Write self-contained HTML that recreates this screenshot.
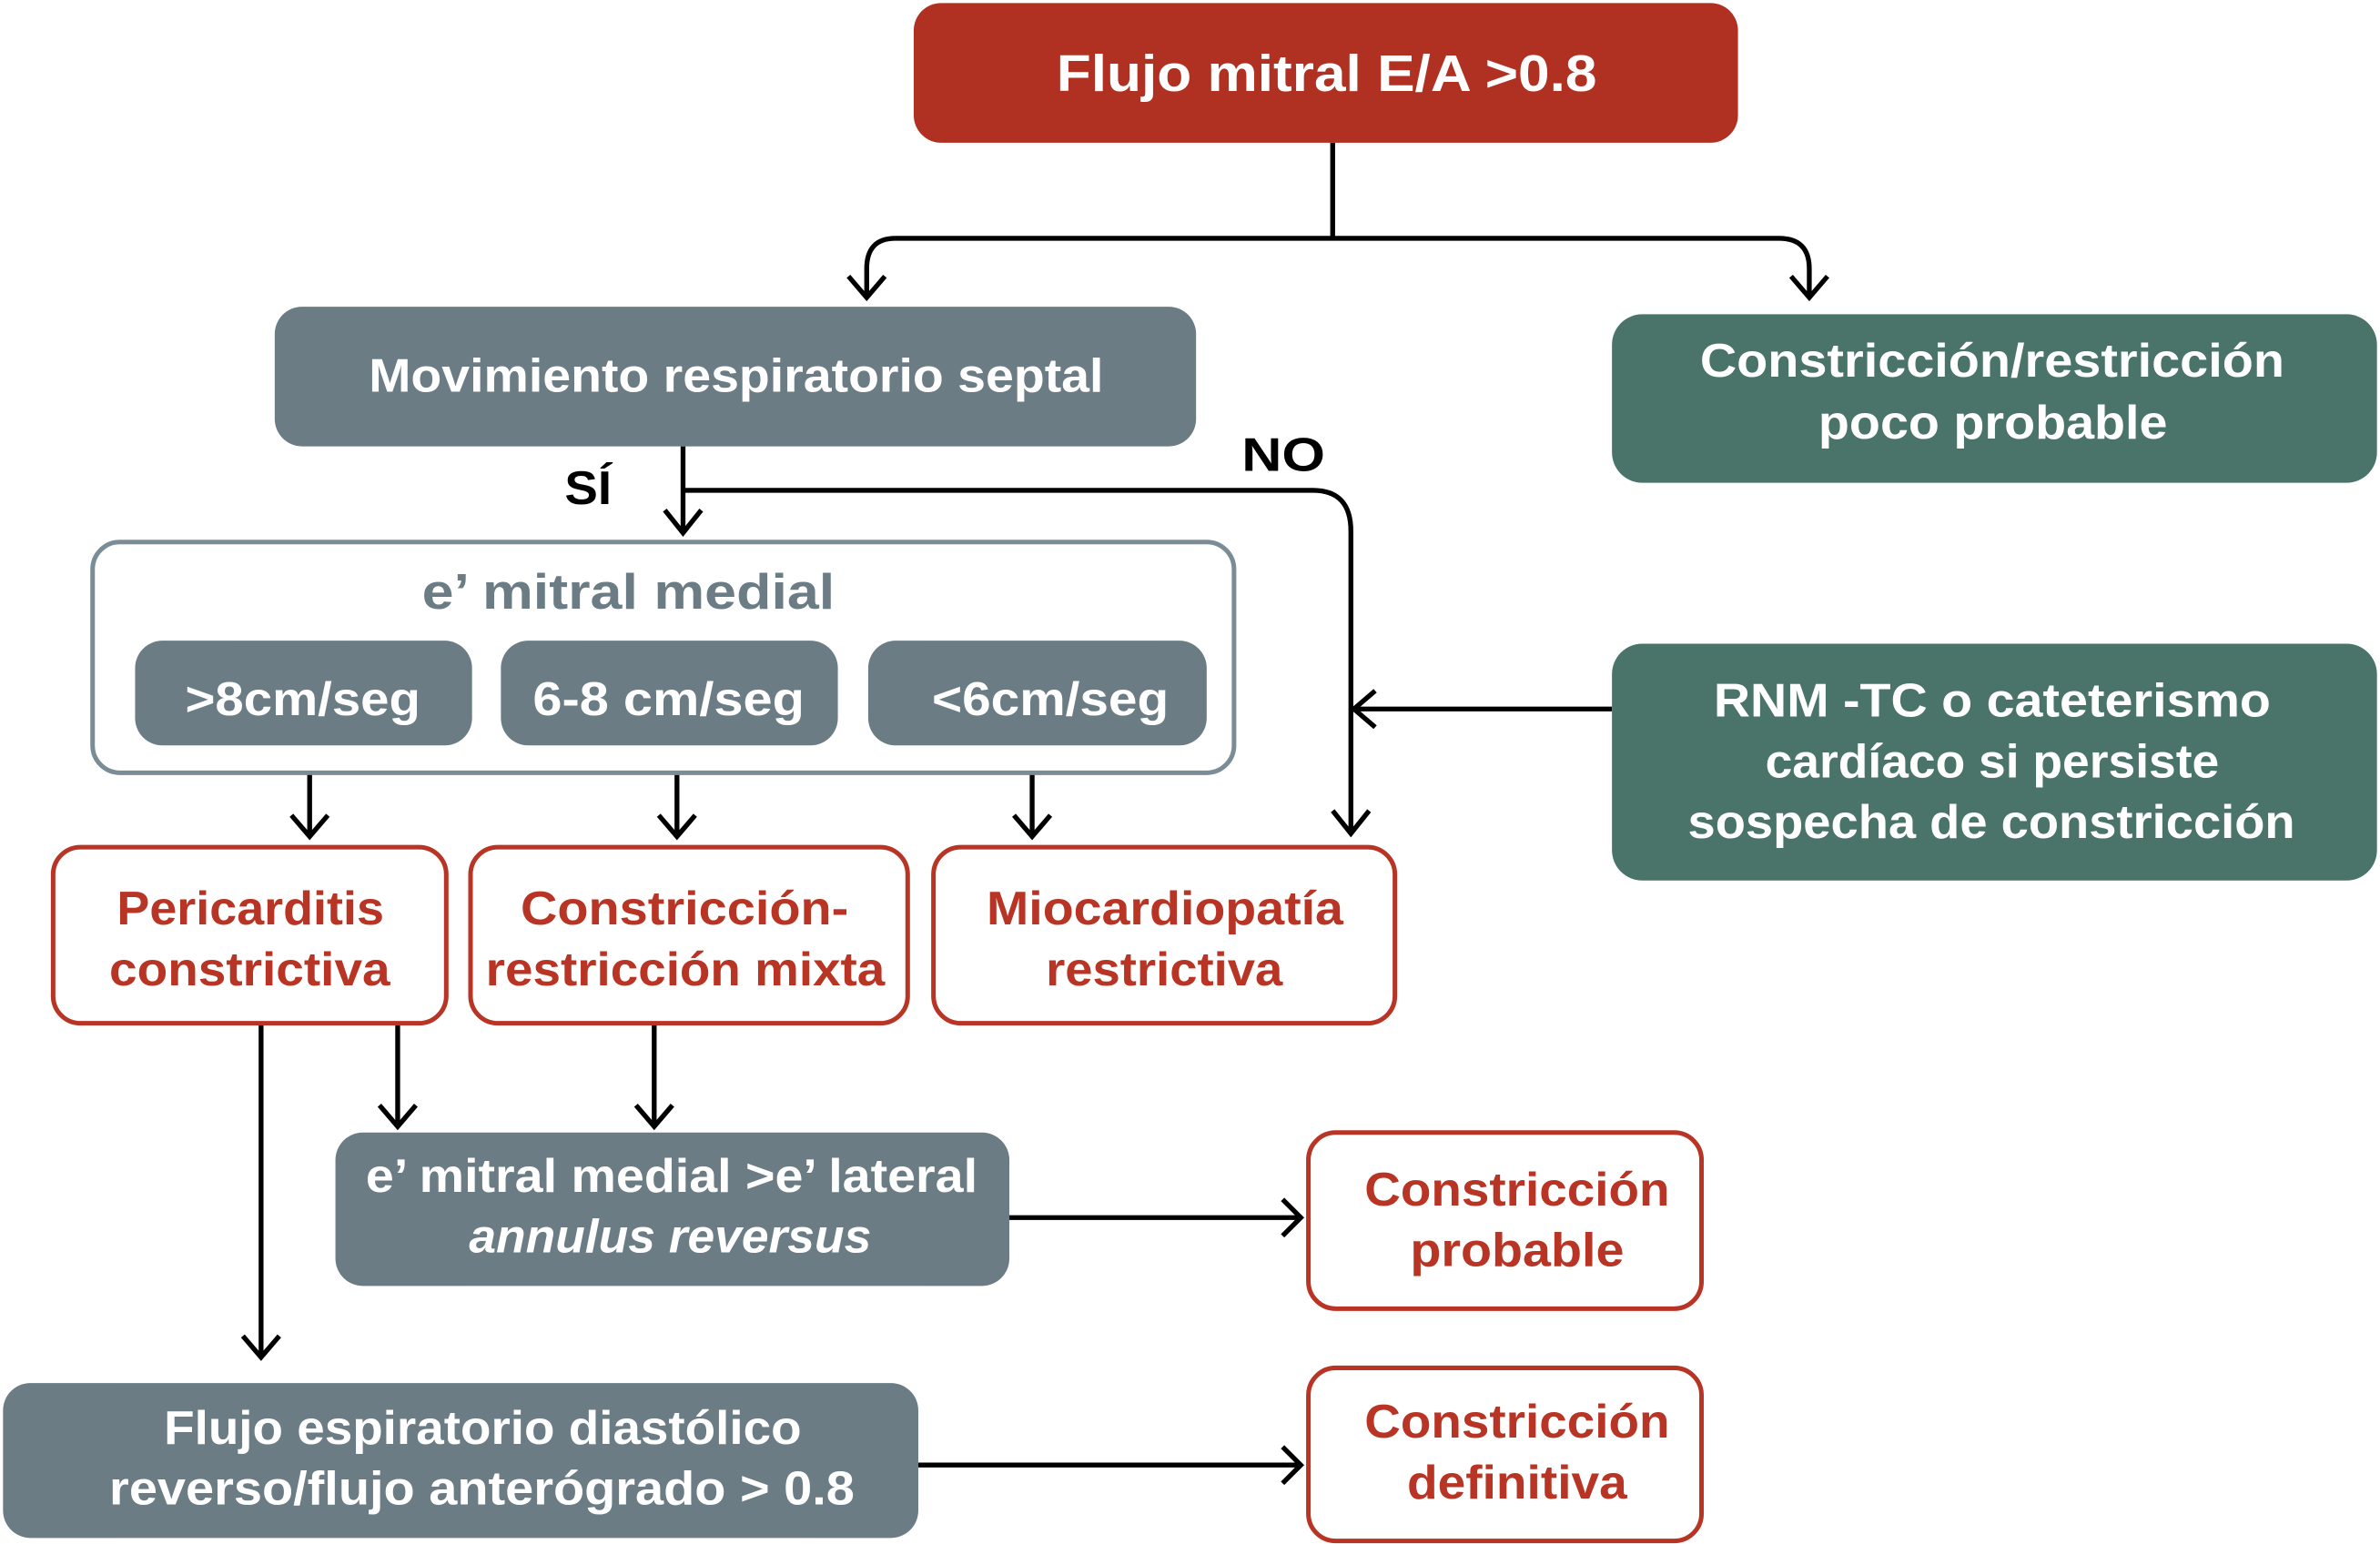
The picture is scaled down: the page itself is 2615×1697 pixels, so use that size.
<!DOCTYPE html>
<html><head><meta charset="utf-8"><style>html,body{margin:0;padding:0;background:#fff}svg{display:block}</style></head>
<body>
<svg width="2615" height="1697" viewBox="0 0 1568 1017" preserveAspectRatio="none" xmlns="http://www.w3.org/2000/svg" font-family="Liberation Sans, DejaVu Sans, sans-serif" font-weight="bold">
<g fill="none" stroke="#000" stroke-width="3.2">
<path d="M878 94 V157"/>
<path d="M590 157 H1172 Q1192 157 1192 177 V196"/>
<path d="M590 157 Q571 157 571 177 V196"/>
<path d="M559 182 L571 196 L583 182"/>
<path d="M1180 182 L1192 196 L1204 182"/>
<path d="M450 294 V351"/>
<path d="M438 336 L450 351 L462 336"/>
<path d="M450 323 H865 Q890 323 890 350 V549"/>
<path d="M878 534 L890 549 L902 534"/>
<path d="M1062 467 H892"/>
<path d="M906 455 L892 467 L906 479"/>
<path d="M204 510 V551"/><path d="M192 537 L204 551 L216 537"/>
<path d="M446 510 V551"/><path d="M434 537 L446 551 L458 537"/>
<path d="M680 510 V551"/><path d="M668 537 L680 551 L692 537"/>
<path d="M172 674 V894"/><path d="M160 880 L172 894 L184 880"/>
<path d="M262 674 V742"/><path d="M250 728 L262 742 L274 728"/>
<path d="M431 674 V742"/><path d="M419 728 L431 742 L443 728"/>
<path d="M665 802 H857"/><path d="M845 790 L857 802 L845 814"/>
<path d="M605 965 H857"/><path d="M845 953 L857 965 L845 977"/>
</g>
<rect x="602" y="2" width="543" height="92" rx="18" fill="#B03022"/>
<rect x="181" y="202" width="607" height="92" rx="18" fill="#6B7C85"/>
<rect x="1062" y="207" width="504" height="111" rx="20" fill="#4A746A"/>
<rect x="61" y="357" width="752" height="152" rx="18" fill="#fff" stroke="#7A8C95" stroke-width="3"/>
<rect x="89" y="422" width="222" height="69" rx="18" fill="#6B7C85"/>
<rect x="330" y="422" width="222" height="69" rx="18" fill="#6B7C85"/>
<rect x="572" y="422" width="223" height="69" rx="18" fill="#6B7C85"/>
<rect x="1062" y="424" width="504" height="156" rx="20" fill="#4A746A"/>
<g fill="#fff" stroke="#B83424" stroke-width="3">
<rect x="35" y="558" width="259" height="116" rx="18"/>
<rect x="310" y="558" width="288" height="116" rx="18"/>
<rect x="615" y="558" width="304" height="116" rx="18"/>
<rect x="862" y="746" width="259" height="116" rx="18"/>
<rect x="862" y="901" width="259" height="114" rx="18"/>
</g>
<rect x="221" y="746" width="444" height="101" rx="18" fill="#6B7C85"/>
<rect x="2" y="911" width="603" height="102" rx="18" fill="#6B7C85"/>
<g font-size="31" lengthAdjust="spacingAndGlyphs">
<text x="696" y="60" font-size="34" fill="#fff" textLength="356" lengthAdjust="spacingAndGlyphs">Flujo mitral E/A &gt;0.8</text>
<text x="243" y="258" fill="#fff" textLength="484" lengthAdjust="spacingAndGlyphs">Movimiento respiratorio septal</text>
<text x="1120" y="248" fill="#fff" textLength="385" lengthAdjust="spacingAndGlyphs">Constricción/restricción</text>
<text x="1198" y="289" fill="#fff" textLength="230" lengthAdjust="spacingAndGlyphs">poco probable</text>
<text x="278" y="401" font-size="33" fill="#6B7C85" textLength="272" lengthAdjust="spacingAndGlyphs">e’ mitral medial</text>
<text x="122" y="471" fill="#fff" textLength="155" lengthAdjust="spacingAndGlyphs">&gt;8cm/seg</text>
<text x="351" y="471" fill="#fff" textLength="179" lengthAdjust="spacingAndGlyphs">6-8 cm/seg</text>
<text x="614" y="471" fill="#fff" textLength="156" lengthAdjust="spacingAndGlyphs">&lt;6cm/seg</text>
<text x="1129" y="472" fill="#fff" textLength="367" lengthAdjust="spacingAndGlyphs">RNM -TC o cateterismo</text>
<text x="1163" y="512" fill="#fff" textLength="299" lengthAdjust="spacingAndGlyphs">cardíaco si persiste</text>
<text x="1112" y="552" fill="#fff" textLength="400" lengthAdjust="spacingAndGlyphs">sospecha de constricción</text>
<text x="77" y="609" fill="#B83424" textLength="176" lengthAdjust="spacingAndGlyphs">Pericarditis</text>
<text x="72" y="649" fill="#B83424" textLength="185" lengthAdjust="spacingAndGlyphs">constrictiva</text>
<text x="343" y="609" fill="#B83424" textLength="216" lengthAdjust="spacingAndGlyphs">Constricción-</text>
<text x="320" y="649" fill="#B83424" textLength="263" lengthAdjust="spacingAndGlyphs">restricción mixta</text>
<text x="650" y="609" fill="#B83424" textLength="235" lengthAdjust="spacingAndGlyphs">Miocardiopatía</text>
<text x="689" y="649" fill="#B83424" textLength="156" lengthAdjust="spacingAndGlyphs">restrictiva</text>
<text x="241" y="785" fill="#fff" textLength="403" lengthAdjust="spacingAndGlyphs">e’ mitral medial &gt;e’ lateral</text>
<text x="309" y="825" fill="#fff" font-style="italic" textLength="265" lengthAdjust="spacingAndGlyphs">annulus reversus</text>
<text x="899" y="794" fill="#B83424" textLength="201" lengthAdjust="spacingAndGlyphs">Constricción</text>
<text x="929" y="834" fill="#B83424" textLength="141" lengthAdjust="spacingAndGlyphs">probable</text>
<text x="899" y="947" fill="#B83424" textLength="201" lengthAdjust="spacingAndGlyphs">Constricción</text>
<text x="927" y="987" fill="#B83424" textLength="145" lengthAdjust="spacingAndGlyphs">definitiva</text>
<text x="108" y="951" fill="#fff" textLength="420" lengthAdjust="spacingAndGlyphs">Flujo espiratorio diastólico</text>
<text x="72" y="991" fill="#fff" textLength="491" lengthAdjust="spacingAndGlyphs">reverso/flujo anterógrado &gt; 0.8</text>
<text x="372" y="332" fill="#000" textLength="31" lengthAdjust="spacingAndGlyphs">SÍ</text>
<text x="818" y="310" fill="#000" textLength="55" lengthAdjust="spacingAndGlyphs">NO</text>
</g>
</svg>
</body></html>
